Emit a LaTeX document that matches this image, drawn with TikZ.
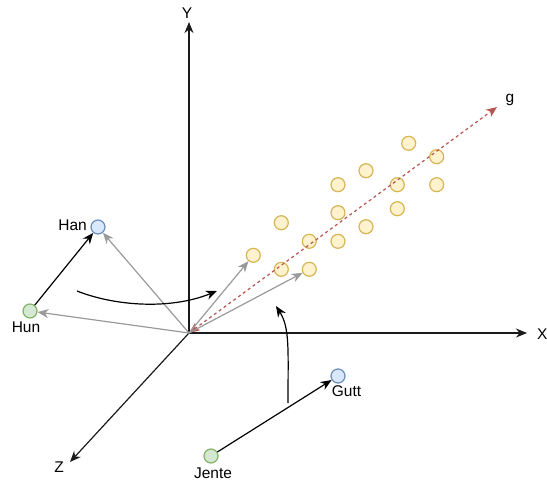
\documentclass[tikz,border=0pt]{standalone}
\usepackage{fontspec}
\setmainfont{Liberation Sans}
\usetikzlibrary{arrows.meta}
\definecolor{ylfill}{HTML}{FFF2CC}
\definecolor{ylline}{HTML}{D6B656}
\definecolor{blfill}{HTML}{DAE8FC}
\definecolor{blline}{HTML}{6C8EBF}
\definecolor{grfill}{HTML}{D5E8D4}
\definecolor{grline}{HTML}{82B366}
\definecolor{redline}{HTML}{B85450}
\definecolor{greyline}{HTML}{9A9A9A}
\definecolor{axisline}{HTML}{1A1A1A}
\tikzset{
  pt/.style={circle,draw=ylline,fill=ylfill,line width=1.2pt,minimum size=14pt,inner sep=0pt},
  bluept/.style={circle,draw=blline,fill=blfill,line width=1.2pt,minimum size=14pt,inner sep=0pt},
  greenpt/.style={circle,draw=grline,fill=grfill,line width=1.2pt,minimum size=14pt,inner sep=0pt},
  lbl/.style={font=\fontsize{15.5}{18}\selectfont,inner sep=0pt},
  axis/.style={draw=axisline,line width=1.2pt,-{Stealth[length=11pt,width=9pt,inset=3.5pt]}},
  blk/.style={draw=black,line width=1.2pt,-{Stealth[length=11pt,width=9pt,inset=3.5pt]}},
  gry/.style={draw=greyline,line width=1.2pt,-{Stealth[length=11pt,width=9pt,inset=3.5pt]}},
  redarr/.style={draw=redline,line width=1.2pt,dash pattern=on 3pt off 3pt,
     {Stealth[length=11pt,width=9pt,inset=3.5pt,fill=redline]}-{Stealth[length=11pt,width=9pt,inset=3.5pt,fill=redline]}}
}
\begin{document}
\begin{tikzpicture}[x=1pt,y=-1pt]
\useasboundingbox (0,0) rectangle (547,483);
% axes
\coordinate (O) at (189,333);
\coordinate (Ytip) at (189,22);
\coordinate (Xtip) at (527,333);
\coordinate (Ztip) at (70,462);
\draw[axis] (O) -- (Ytip);
\draw[axis] (O) -- (Xtip);
\draw[axis] (O) -- (Ztip);
\node[lbl] (Ylbl) at (187,13) {Y};
\node[lbl,anchor=west] (Xlbl) at (537,334) {X};
\node[lbl] (Zlbl) at (59,467) {Z};
% points
\node[pt] (p1) at (408.7,143.3) {};
\node[pt] (p2) at (436.7,156.7) {};
\node[pt] (p3) at (366,170.7) {};
\node[pt] (p4) at (338,184.7) {};
\node[pt] (p5) at (397.3,184.7) {};
\node[pt] (p6) at (436.7,184.7) {};
\node[pt] (p7) at (397.3,208.7) {};
\node[pt] (p8) at (338,212.7) {};
\node[pt] (p9) at (281.3,222.7) {};
\node[pt] (p10) at (366,226.7) {};
\node[pt] (p11) at (338,241.3) {};
\node[pt] (p12) at (309.3,241.3) {};
\node[pt] (p13) at (253.3,255.3) {};
\node[pt] (p14) at (281.3,269.3) {};
\node[pt] (p15) at (309.3,269.3) {};
% g vector
\coordinate (gtip) at (497,107);
\draw[redarr] (O) -- (gtip);
\node[lbl] (glbl) at (510,100) {g};
% words
\node[bluept] (han) at (98,227) {};
\node[greenpt] (hun) at (30,311) {};
\node[bluept] (gutt) at (338,376) {};
\node[greenpt] (jente) at (211,456) {};
\node[lbl,anchor=east] (hanlbl) at (87,225.5) {Han};
\node[lbl] (hunlbl) at (26,327.5) {Hun};
\node[lbl] (guttlbl) at (346.5,391) {Gutt};
\node[lbl] (jentelbl) at (213,473) {Jente};
% grey arrows
\draw[gry] (O) -- (han);
\draw[gry] (O) -- (hun);
\draw[gry] (O) -- (p13);
\draw[gry] (O) -- (p15);
% black arrows
\draw[blk] (hun) -- (han);
\draw[blk] (jente) -- (gutt);
\coordinate (c1s) at (77,291);
\coordinate (c1e) at (217,291);
\draw[blk] (c1s) .. controls (115,306) and (170,310) .. (c1e);
\coordinate (c2s) at (288,403);
\coordinate (c2e) at (276,306);
\draw[blk] (c2s) .. controls (288,350) and (290,328) .. (c2e);
\end{tikzpicture}
\end{document}
